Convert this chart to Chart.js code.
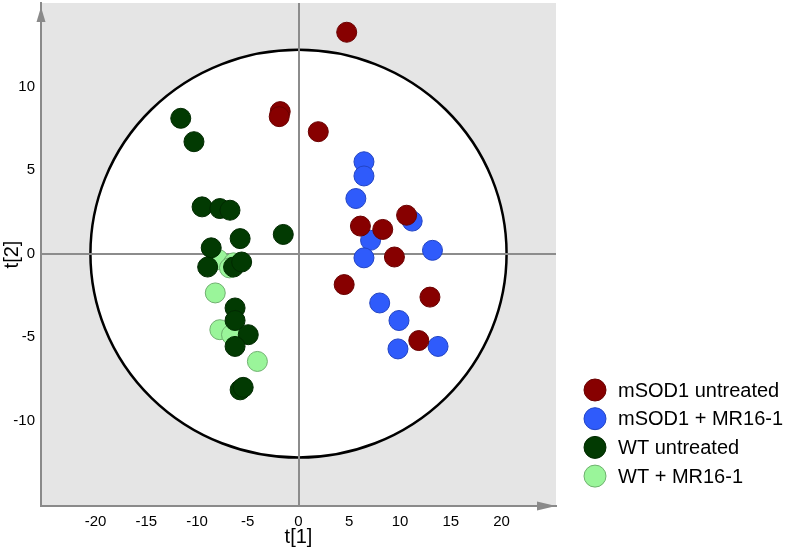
<!DOCTYPE html>
<html>
<head>
    <meta charset="UTF-8">
    <script src="https://cdn.jsdelivr.net/npm/chart.js@4.4.1/dist/chart.umd.min.js"></script>
    <title>t[1] / t[2] score plot</title>
    <style>
        html, body { margin: 0; padding: 0; background: #fff; }
        #wrap { width: 787px; height: 551px; }
    </style>
</head>
<body>
<div id="wrap"><canvas id="myChart" width="787" height="551"></canvas></div>
<script>
// group names (legend order)
const groups = ['mSOD1 untreated', 'mSOD1 + MR16-1', 'WT untreated', 'WT + MR16-1'];
const fillColors = ['#870000', '#2f5bfb', '#023a02', '#9af59a'];
const lineColors = ['#6a0000', '#2244c4', '#012a01', '#6fb06f'];

// scores t[1] / t[2]
const sodUntreatedT1 = [4.75, -1.8, -1.9, 1.95, 10.65, 6.1, 8.3, 9.45, 4.5, 12.95, 11.85];
const sodUntreatedT2 = [13.25, 8.5, 8.2, 7.3, 2.3, 1.65, 1.45, -0.2, -1.85, -2.6, -5.2];

const sodTreatedT1 = [6.45, 6.45, 5.65, 11.2, 7.1, 6.45, 13.2, 8.0, 9.9, 9.8, 13.75];
const sodTreatedT2 = [5.5, 4.65, 3.3, 1.95, 0.8, -0.25, 0.2, -2.95, -4.0, -5.7, -5.55];

const wtUntreatedT1 = [-11.6, -10.3, -9.5, -7.75, -6.75, -5.75, -1.5, -8.6, -8.95, -6.4, -5.6, -6.25, -6.25, -4.95, -6.25, -5.75, -5.45];
const wtUntreatedT2 = [8.1, 6.7, 2.8, 2.7, 2.6, 0.9, 1.15, 0.35, -0.8, -0.8, -0.5, -3.25, -4.0, -4.85, -5.55, -8.15, -8.0];

const wtTreatedT1 = [-7.9, -6.4, -6.8, -8.2, -7.75, -6.6, -4.05];
const wtTreatedT2 = [-0.35, -0.55, -0.85, -2.35, -4.55, -4.85, -6.45];

const seriesT1 = [sodUntreatedT1, sodTreatedT1, wtUntreatedT1, wtTreatedT1];
const seriesT2 = [sodUntreatedT2, sodTreatedT2, wtUntreatedT2, wtTreatedT2];

// axis ticks and confidence ellipse half-axes (data units)
const t1Ticks = [-20, -15, -10, -5, 0, 5, 10, 15, 20];
const t2Ticks = [-10, -5, 0, 5, 10];
const ellipseT1 = 20.5;
const ellipseT2 = 12.2;

const datasets = groups.map(function(name, i) {
    return {
        label: name,
        data: seriesT1[i].map(function(x, j) { return { x: x, y: seriesT2[i][j] }; }),
        backgroundColor: fillColors[i],
        borderColor: lineColors[i],
        borderWidth: 1,
        pointRadius: 10,
        pointHoverRadius: 10
    };
});

const plotDecor = {
    id: 'plotDecor',
    beforeDraw: function(chart) {
        const c = chart.ctx, a = chart.chartArea;
        const sx = chart.scales.x, sy = chart.scales.y;
        c.save();
        c.fillStyle = '#e5e5e5';
        c.fillRect(a.left, a.top, a.right - a.left, a.bottom - a.top);
        const cx = sx.getPixelForValue(0), cy = sy.getPixelForValue(0);
        const rx = sx.getPixelForValue(ellipseT1) - cx;
        const ry = cy - sy.getPixelForValue(ellipseT2);
        c.beginPath();
        c.ellipse(cx, cy, rx, ry, 0, 0, Math.PI * 2);
        c.fillStyle = '#ffffff';
        c.fill();
        c.lineWidth = 2.5;
        c.strokeStyle = '#000000';
        c.stroke();
        c.restore();
    },
    afterDraw: function(chart) {
        const c = chart.ctx, a = chart.chartArea;
        c.save();
        c.fillStyle = '#8a8a8a';
        // arrow on t[2] axis
        c.beginPath();
        c.moveTo(a.left, a.top + 4);
        c.lineTo(a.left - 4.5, a.top + 19);
        c.lineTo(a.left + 4.5, a.top + 19);
        c.closePath();
        c.fill();
        // arrow on t[1] axis
        c.beginPath();
        c.moveTo(a.right, a.bottom);
        c.lineTo(a.right - 19, a.bottom - 4.5);
        c.lineTo(a.right - 19, a.bottom + 4.5);
        c.closePath();
        c.fill();

        // legend
        const lx = 595, ly = 390, step = 28.7;
        c.font = '20px "Liberation Sans", Arial, sans-serif';
        c.textBaseline = 'middle';
        c.textAlign = 'left';
        groups.forEach(function(name, i) {
            const y = ly + i * step;
            c.beginPath();
            c.arc(lx, y, 11, 0, Math.PI * 2);
            c.fillStyle = fillColors[i];
            c.fill();
            c.lineWidth = 1;
            c.strokeStyle = lineColors[i];
            c.stroke();
            c.fillStyle = '#000000';
            c.fillText(name, 618, y + 1);
        });
        c.restore();
    }
};

const axisFont = { family: '"Liberation Sans", Arial, sans-serif', size: 15 };
const titleFont = { family: '"Liberation Sans", Arial, sans-serif', size: 20 };

const ctx = document.getElementById('myChart').getContext('2d');
const myChart = new Chart(ctx, {
    type: 'scatter',
    data: { datasets: datasets },
    options: {
        responsive: false,
        animation: false,
        layout: { autoPadding: false, padding: { left: 0, top: 3, right: 231, bottom: 0 } },
        plugins: {
            legend: { display: false },
            tooltip: { enabled: false }
        },
        scales: {
            x: {
                type: 'linear',
                min: -25.37,
                max: 25.37,
                afterBuildTicks: function(s) { s.ticks = t1Ticks.map(function(v) { return { value: v }; }); },
                afterFit: function(s) { s.height = 45; s.paddingLeft = 0; s.paddingRight = 0; },
                grid: {
                    drawTicks: false,
                    lineWidth: 2,
                    color: function(c) { return c.tick && c.tick.value === 0 ? '#8c8c8c' : 'rgba(0,0,0,0)'; }
                },
                border: { display: true, color: '#8a8a8a', width: 2 },
                ticks: { color: '#000', font: axisFont, padding: 7, maxRotation: 0 },
                title: { display: true, text: 't[1]', color: '#000', font: titleFont, padding: { top: 0, bottom: 2 } }
            },
            y: {
                type: 'linear',
                min: -15.1,
                max: 15.0,
                afterBuildTicks: function(s) { s.ticks = t2Ticks.map(function(v) { return { value: v }; }); },
                afterFit: function(s) { s.width = 41; s.paddingTop = 0; s.paddingBottom = 0; },
                grid: {
                    drawTicks: false,
                    lineWidth: 2,
                    color: function(c) { return c.tick && c.tick.value === 0 ? '#8c8c8c' : 'rgba(0,0,0,0)'; }
                },
                border: { display: true, color: '#8a8a8a', width: 2 },
                ticks: { color: '#000', font: axisFont, padding: 6 },
                title: { display: true, text: 't[2]', color: '#000', font: titleFont, padding: { top: 0, bottom: 0 } }
            }
        }
    },
    plugins: [plotDecor]
});
</script>
</body>
</html>
